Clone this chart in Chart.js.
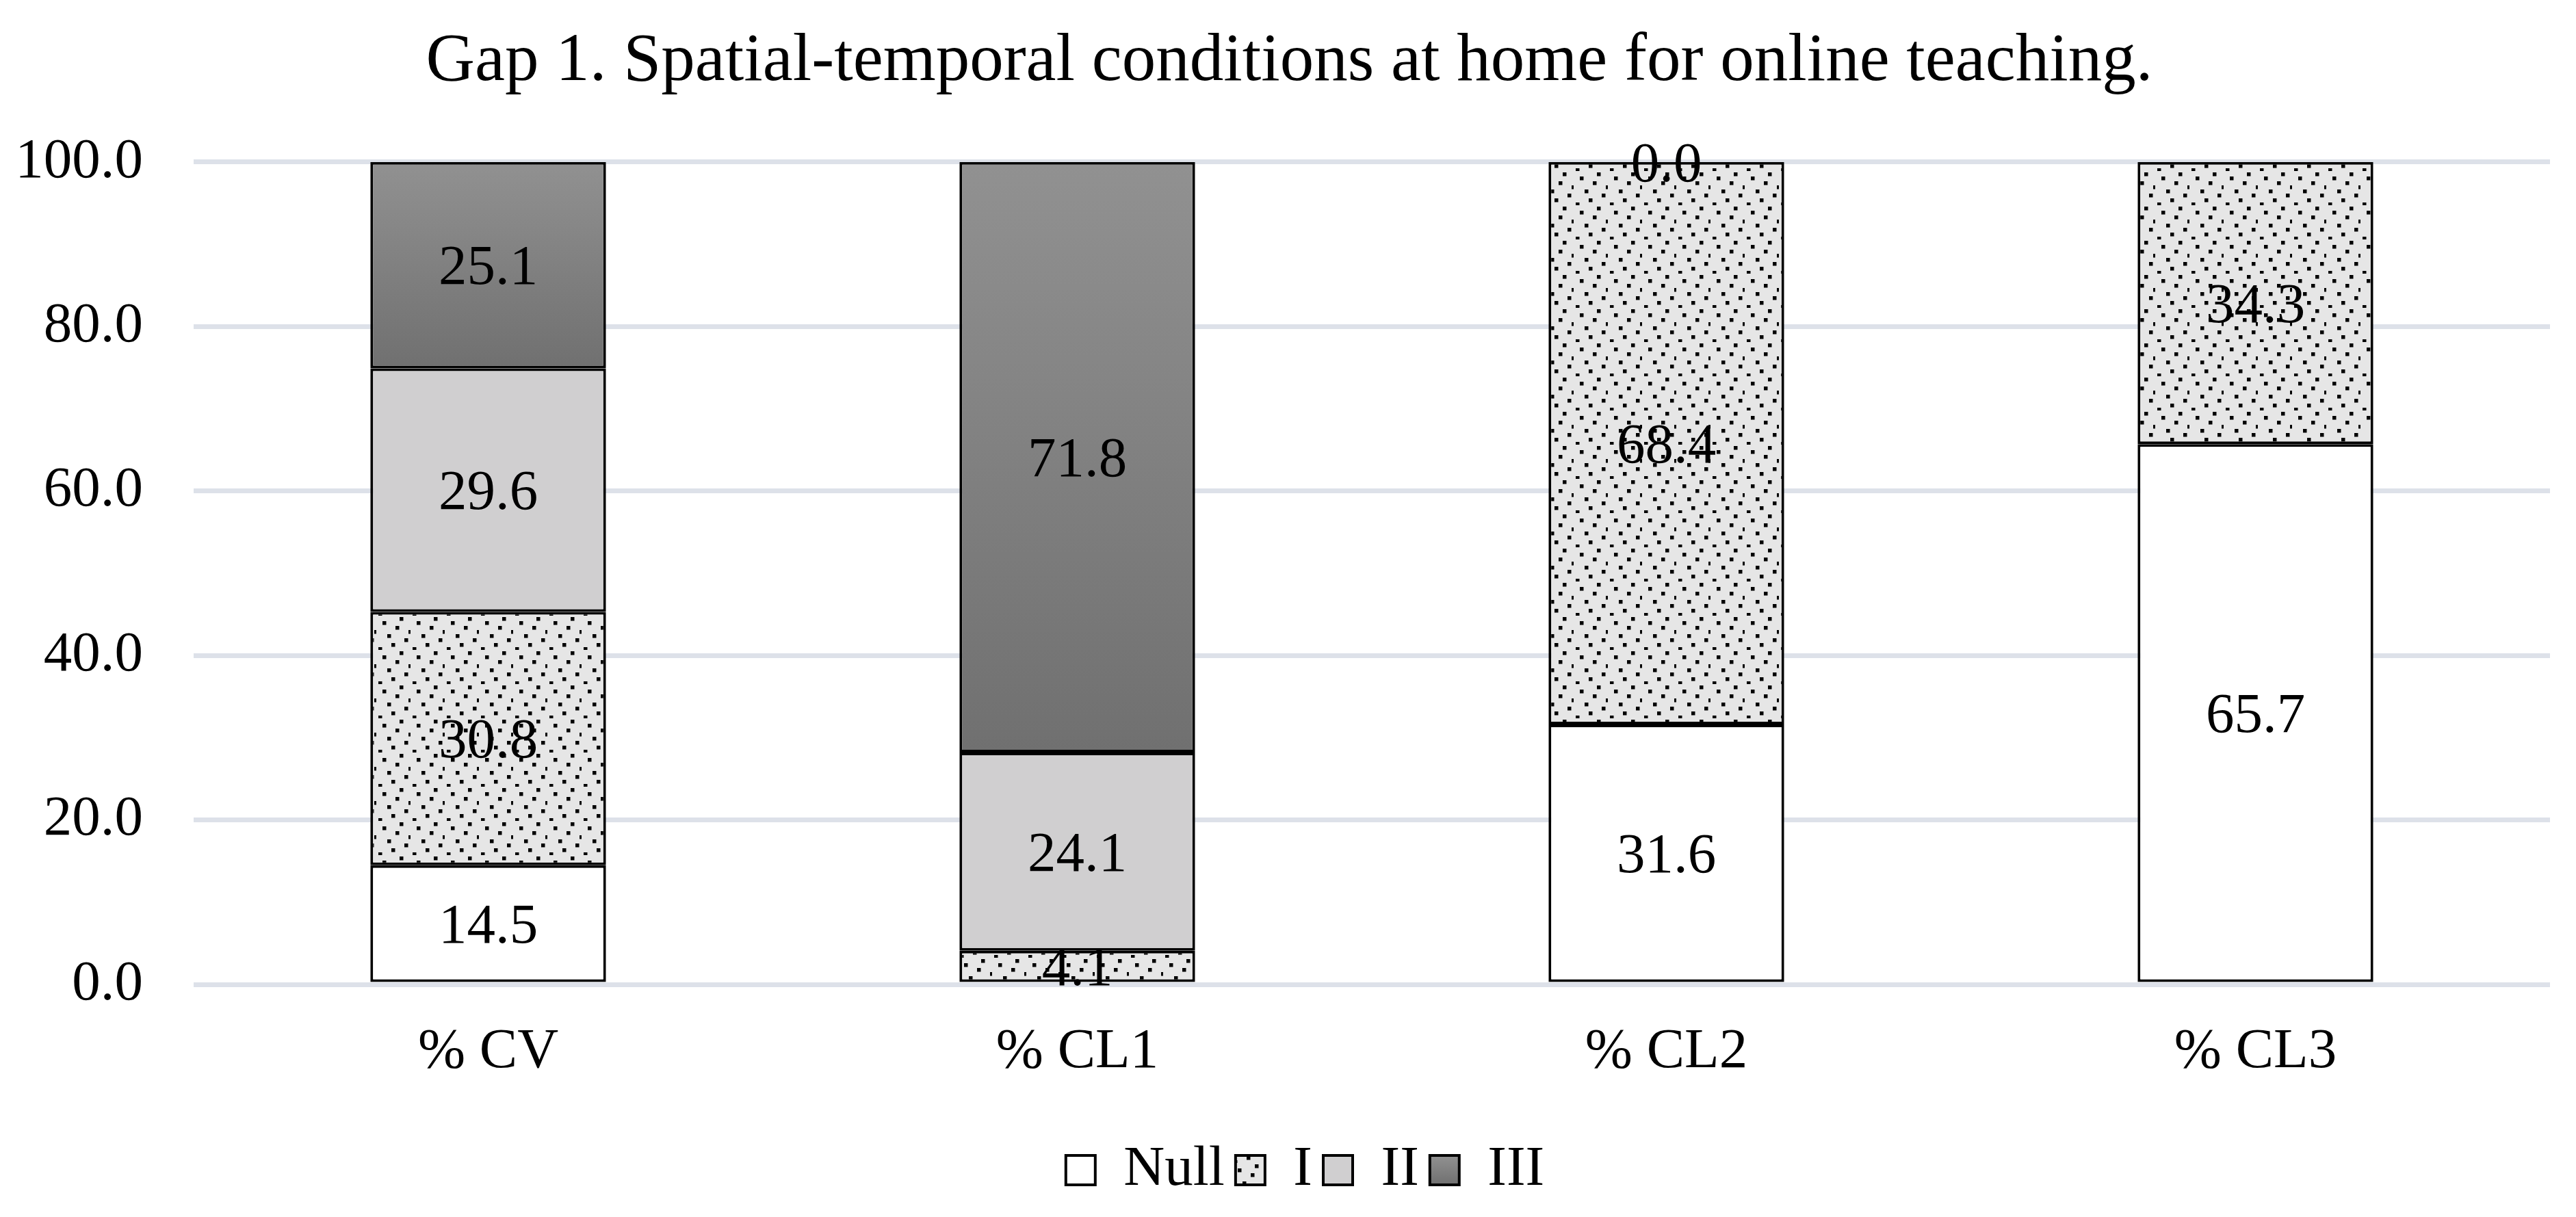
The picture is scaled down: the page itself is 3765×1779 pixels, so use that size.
<!DOCTYPE html>
<html>
<head>
<meta charset="utf-8">
<script src="https://cdn.jsdelivr.net/npm/chart.js@4/dist/chart.umd.min.js"></script>
<style>
  html, body { margin: 0; padding: 0; background: #ffffff; }
  #wrap { width: 3765px; height: 1779px; }
</style>
</head>
<body>
<div id="wrap"><canvas id="c" width="3765" height="1779"></canvas></div>
<script>
const titleText = 'Gap 1. Spatial-temporal conditions at home for online teaching.';
const categories = ['% CV', '% CL1', '% CL2', '% CL3'];
const seriesNames = ['Null', 'I', 'II', 'III'];
const nullValues = [14.5, null, 31.6, 65.7];
const levelIValues = [30.8, 4.1, 68.4, 34.3];
const levelIIValues = [29.6, 24.1, null, null];
const levelIIIValues = [25.1, 71.8, 0.0, null];
const yTicks = [0, 20, 40, 60, 80, 100];

const FONT = "'Liberation Serif', 'Times New Roman', serif";

// dotted pattern for series I
function makeDotPattern() {
  const s = 50, step = 6.25, d = 5.5;
  const cols = [5, 1, 4, 7, 2, 6, 3, 0];
  const cv = document.createElement('canvas');
  cv.width = s; cv.height = s;
  const g = cv.getContext('2d');
  g.fillStyle = '#e6e6e6';
  g.fillRect(0, 0, s, s);
  g.fillStyle = '#000000';
  cols.forEach((c, r) => {
    g.fillRect(Math.round(c * step + 3), Math.round(r * step + 2), d, d);
  });
  return document.getElementById('c').getContext('2d').createPattern(cv, 'repeat');
}
const dotPattern = makeDotPattern();

function gradientFill(c) {
  const chart = c.chart;
  if (!chart.chartArea || c.type !== 'data') return '#808080';
  const y = chart.scales.y;
  let base = 0;
  for (let d = 0; d < c.datasetIndex; d++) base += (chart.data.datasets[d].data[c.dataIndex] || 0);
  const v = chart.data.datasets[c.datasetIndex].data[c.dataIndex] || 0;
  const top = y.getPixelForValue(base + v), bot = y.getPixelForValue(base);
  if (bot - top < 1) return '#808080';
  const g = chart.ctx.createLinearGradient(0, top, 0, bot);
  g.addColorStop(0, '#919191');
  g.addColorStop(1, '#707070');
  return g;
}

const valueLabels = {
  id: 'valueLabels',
  afterDatasetsDraw(chart) {
    const ctx = chart.ctx;
    ctx.save();
    ctx.font = '83px ' + FONT;
    ctx.fillStyle = '#000000';
    ctx.textAlign = 'center';
    ctx.textBaseline = 'middle';
    chart.data.datasets.forEach((ds, i) => {
      const meta = chart.getDatasetMeta(i);
      meta.data.forEach((el, j) => {
        const v = ds.data[j];
        if (v === null || v === undefined) return;
        const p = el.getProps(['x', 'y', 'base'], true);
        ctx.fillText(v.toFixed(1), p.x, (p.y + p.base) / 2 + 6);
      });
    });
    ctx.restore();
  }
};

const legendTweaks = {
  id: 'legendTweaks',
  beforeDraw(chart) {
    const lg = chart.legend;
    if (lg && !lg._shifted) {
      lg.left += 44; lg.right += 44; lg._shifted = true;
    }
    const tb = chart.titleBlock;
    if (tb && !tb._shifted) {
      tb.left += 21; tb.right += 21; tb._shifted = true;
    }
    if (!lg || !lg.legendItems || !lg.legendHitBoxes) return;
    const hb = lg.legendHitBoxes[3];
    const it = lg.legendItems[3];
    if (!hb || !it) return;
    const g = chart.ctx.createLinearGradient(0, hb.top + 20, 0, hb.top + hb.height - 20);
    g.addColorStop(0, '#919191');
    g.addColorStop(1, '#707070');
    it.fillStyle = g;
  }
};

Chart.defaults.font.family = FONT;
Chart.defaults.color = '#000000';

new Chart(document.getElementById('c'), {
  type: 'bar',
  data: {
    labels: categories,
    datasets: [
      { label: seriesNames[0], data: nullValues, backgroundColor: '#ffffff' },
      { label: seriesNames[1], data: levelIValues, backgroundColor: dotPattern },
      { label: seriesNames[2], data: levelIIValues, backgroundColor: '#d0cfd0' },
      { label: seriesNames[3], data: levelIIIValues, backgroundColor: gradientFill }
    ]
  },
  options: {
    responsive: false,
    animation: false,
    devicePixelRatio: 1,
    layout: { padding: { top: 32, right: 38, bottom: 17, left: 0 } },
    datasets: {
      bar: {
        borderColor: '#000000',
        borderWidth: 4,
        borderSkipped: false,
        categoryPercentage: 1.0,
        barPercentage: 0.4
      }
    },
    scales: {
      x: {
        stacked: true,
        grid: { display: false },
        border: { display: false },
        ticks: { font: { size: 83 }, color: '#000000', padding: 41 },
        afterFit(s) { s.height = 214; }
      },
      y: {
        stacked: true,
        min: 0,
        max: 100,
        afterBuildTicks(s) { s.ticks = yTicks.map(v => ({ value: v })); },
        grid: { color: '#dde1e9', lineWidth: 7, drawTicks: false },
        border: { display: false },
        ticks: {
          font: { size: 83 },
          color: '#000000',
          padding: 74,
          callback: (v) => Number(v).toFixed(1)
        },
        afterFit(s) { s.width = 283; }
      }
    },
    plugins: {
      title: {
        display: true,
        text: titleText,
        color: '#000000',
        font: { size: 99, weight: 'normal', family: FONT },
        padding: { top: 0, bottom: 86 }
      },
      legend: {
        display: true,
        position: 'bottom',
        labels: {
          font: { size: 83 },
          color: '#000000',
          boxWidth: 43,
          boxHeight: 43,
          padding: 16
        }
      },
      tooltip: { enabled: false }
    }
  },
  plugins: [valueLabels, legendTweaks]
});
</script>
</body>
</html>
